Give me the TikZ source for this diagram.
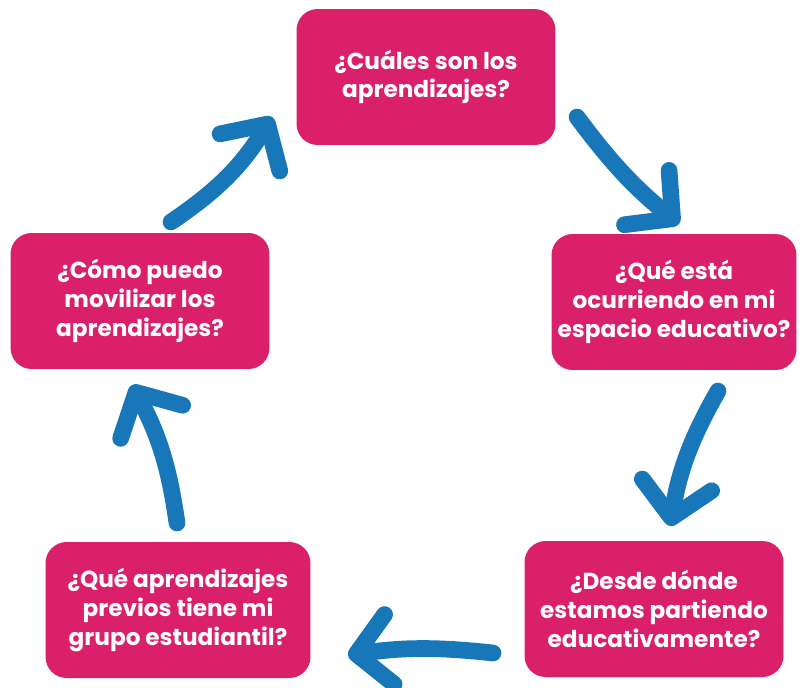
\documentclass[tikz,border=0pt]{standalone}
\usepackage{fontspec}
\setmainfont{Poppins}
\usepackage{tikz}
\usetikzlibrary{arrows.meta}
\definecolor{rosa}{HTML}{DA1F6B}
\definecolor{azul}{HTML}{1877B8}
\tikzset{
  pregunta/.style={rectangle, rounded corners=12pt, fill=rosa, text=white,
    font=\bfseries\fontsize{13.2}{16.3}\selectfont, align=center,
    minimum width=5.18cm, minimum height=2.72cm, inner sep=0pt},
  flecha/.style={line width=9.5pt, draw=azul, line cap=round,
    -{Straight Barb[round, length=19pt, width=40pt]}, bend right=10}
}
\begin{document}
\begin{tikzpicture}[x=0.02cm, y=-0.02cm]
  \useasboundingbox (0,0) rectangle (800,687);
  % preguntas
  \node[pregunta] (cuales) at (426,77) {¿Cuáles son los\\aprendizajes?};
  \node[pregunta, minimum width=4.9cm] (ocurre) at (674,302) {¿Qué está\\ocurriendo en mi\\espacio educativo?};
  \node[pregunta] (desde) at (654,609) {¿Desde dónde\\estamos partiendo\\educativamente?};
  \node[pregunta, minimum width=5.3cm] (previos) at (178,610) {¿Qué aprendizajes\\previos tiene mi\\grupo estudiantil?};
  \node[pregunta] (movilizar) at (140,301) {¿Cómo puedo\\movilizar los\\aprendizajes?};
  % extremos de las flechas
  \coordinate (f1a) at (577,117); \coordinate (f1b) at (679,224);
  \coordinate (f2a) at (718,391); \coordinate (f2b) at (670,526);
  \coordinate (f3a) at (493,653); \coordinate (f3b) at (348,655);
  \coordinate (f4a) at (177,523); \coordinate (f4b) at (132,385);
  \coordinate (f5a) at (171,222); \coordinate (f5b) at (272,117);
  \draw[flecha, bend right=7] (f1a) to (f1b);
  \draw[flecha] (f2a) to (f2b);
  \draw[flecha, bend right=7] (f3a) to (f3b);
  \draw[flecha] (f4a) to (f4b);
  \draw[flecha, bend right=12] (f5a) to (f5b);
\end{tikzpicture}
\end{document}
